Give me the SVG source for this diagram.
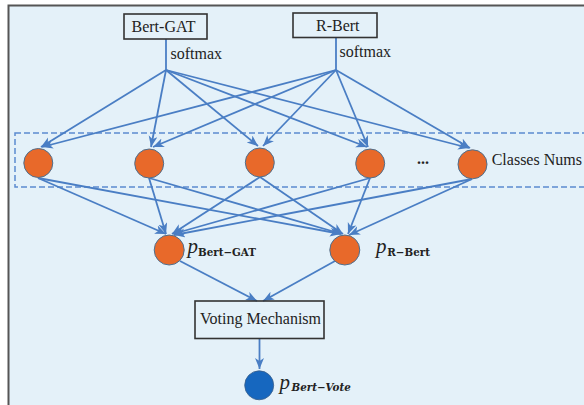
<svg xmlns="http://www.w3.org/2000/svg" width="584" height="405" viewBox="0 0 584 405">
  <style>
    .box { fill: none; stroke: #333; stroke-width: 1.6; }
    .lbl { font-family: "Liberation Serif", "Times New Roman", serif; font-size: 16px; fill: #222; }
    .edge { stroke: #4a7ec4; stroke-width: 1.8; fill: none; }
    .class { fill: #e8692a; stroke: #4d6f8f; stroke-width: 1; }
    .pv { font-family: "Liberation Serif", serif; font-style: italic; font-size: 21px; fill: #222; }
    .sub { font-family: "DejaVu Serif", serif; font-weight: bold; font-size: 10.3px; fill: #222; }
  </style>
  <defs>
    <marker id="arrow" markerUnits="userSpaceOnUse" markerWidth="12" markerHeight="10" refX="11" refY="4.5" orient="auto">
      <path d="M0,0 L11,4.5 L0,9 L3,4.5 z" fill="#4a7ec4"/>
    </marker>
  </defs>

  <!-- panel background -->
  <rect x="8.5" y="5.5" width="620" height="420" fill="#e4f1f9" stroke="#555" stroke-width="2"/>

  <!-- dashed frame around the class layer -->
  <rect x="15" y="133" width="600" height="54" fill="none" stroke="#5b8bd0" stroke-width="1.5" stroke-dasharray="6 3"/>

  <g id="connectors">
    <!-- softmax stems -->
    <line class="edge" x1="166" y1="39" x2="166" y2="70"/>
    <line class="edge" x1="336" y1="38" x2="336" y2="70"/>
    <!-- Bert-GAT fan to classes -->
    <line class="edge" x1="166" y1="70" x2="41" y2="147" marker-end="url(#arrow)"/>
    <line class="edge" x1="166" y1="70" x2="151" y2="147" marker-end="url(#arrow)"/>
    <line class="edge" x1="166" y1="70" x2="258" y2="146" marker-end="url(#arrow)"/>
    <line class="edge" x1="166" y1="70" x2="367" y2="147" marker-end="url(#arrow)"/>
    <line class="edge" x1="166" y1="70" x2="469" y2="148" marker-end="url(#arrow)"/>
    <!-- R-Bert fan to classes -->
    <line class="edge" x1="336" y1="70" x2="42" y2="147" marker-end="url(#arrow)"/>
    <line class="edge" x1="336" y1="70" x2="153" y2="147" marker-end="url(#arrow)"/>
    <line class="edge" x1="336" y1="70" x2="263" y2="146" marker-end="url(#arrow)"/>
    <line class="edge" x1="336" y1="70" x2="368" y2="147" marker-end="url(#arrow)"/>
    <line class="edge" x1="336" y1="70" x2="470" y2="148" marker-end="url(#arrow)"/>
    <!-- classes to p_Bert-GAT -->
    <line class="edge" x1="38" y1="178" x2="166" y2="234" marker-end="url(#arrow)"/>
    <line class="edge" x1="149" y1="178" x2="166" y2="234" marker-end="url(#arrow)"/>
    <line class="edge" x1="260" y1="177" x2="172" y2="234" marker-end="url(#arrow)"/>
    <line class="edge" x1="370" y1="178" x2="173" y2="234" marker-end="url(#arrow)"/>
    <line class="edge" x1="472" y1="179" x2="174" y2="235" marker-end="url(#arrow)"/>
    <!-- classes to p_R-Bert -->
    <line class="edge" x1="38" y1="178" x2="341" y2="234" marker-end="url(#arrow)"/>
    <line class="edge" x1="149" y1="178" x2="342" y2="234" marker-end="url(#arrow)"/>
    <line class="edge" x1="260" y1="177" x2="343" y2="234" marker-end="url(#arrow)"/>
    <line class="edge" x1="370" y1="178" x2="348" y2="234" marker-end="url(#arrow)"/>
    <line class="edge" x1="472" y1="179" x2="349" y2="235" marker-end="url(#arrow)"/>
    <!-- into the voting step -->
    <line class="edge" x1="180" y1="261" x2="257" y2="301" marker-end="url(#arrow)"/>
    <line class="edge" x1="335" y1="261" x2="263" y2="301" marker-end="url(#arrow)"/>
    <line class="edge" x1="259.5" y1="338.5" x2="259.5" y2="369" marker-end="url(#arrow)"/>
  </g>

  <g id="bert-gat">
    <rect class="box" x="124" y="14" width="83" height="25"/>
    <text class="lbl" x="131.5" y="31.5">Bert-GAT</text>
    <text class="lbl" x="170.5" y="59">softmax</text>
  </g>

  <g id="r-bert">
    <rect class="box" x="293" y="13" width="84" height="24.5"/>
    <text class="lbl" x="316" y="30.5">R-Bert</text>
    <text class="lbl" x="339.5" y="56.5">softmax</text>
  </g>

  <g id="classes">
    <circle class="class" cx="38.3" cy="163" r="14.5"/>
    <circle class="class" cx="149.2" cy="163.5" r="14.5"/>
    <circle class="class" cx="259.8" cy="162.5" r="14.5"/>
    <circle class="class" cx="370.2" cy="163.5" r="14.5"/>
    <text class="lbl" x="417" y="164" font-weight="bold">...</text>
    <circle class="class" cx="472.5" cy="164.3" r="14.5"/>
    <text class="lbl" x="491.7" y="164.5">Classes Nums</text>
  </g>

  <g id="p-bert-gat">
    <circle class="class" cx="169.2" cy="250" r="15"/>
    <text class="pv" x="187.5" y="253">p</text>
    <text class="sub" x="198" y="255.5">Bert−GAT</text>
  </g>

  <g id="p-r-bert">
    <circle class="class" cx="344.8" cy="250" r="15"/>
    <text class="pv" x="376" y="253">p</text>
    <text class="sub" x="387.3" y="255.5">R−Bert</text>
  </g>

  <g id="voting">
    <rect class="box" x="195" y="301" width="129" height="37.5"/>
    <text class="lbl" x="200" y="323.5">Voting Mechanism</text>
  </g>

  <g id="p-bert-vote">
    <circle cx="259.2" cy="385.3" r="14.5" fill="#1667bf" stroke="#3a5f8a" stroke-width="0.8"/>
    <text class="pv" x="279.5" y="388.5">p</text>
    <text class="sub" x="291.5" y="391" font-style="italic">Bert−Vote</text>
  </g>
</svg>
